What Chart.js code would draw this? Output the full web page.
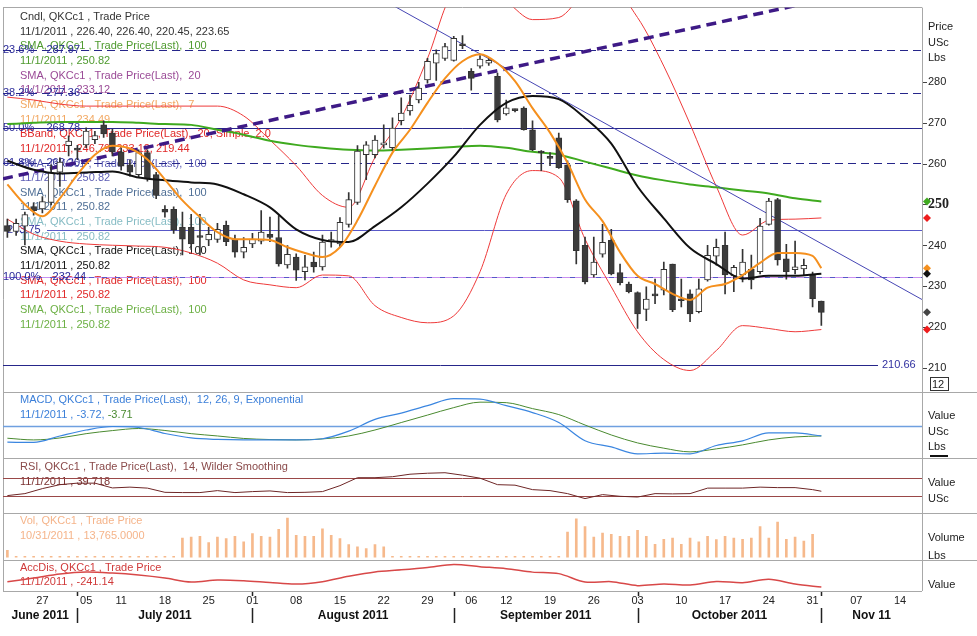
<!DOCTYPE html>
<html>
<head>
<meta charset="utf-8">
<script src="https://cdn.jsdelivr.net/npm/chart.js@4.4.1/dist/chart.umd.min.js"></script>
<style>
  html, body { margin: 0; padding: 0; background: #fff; overflow: hidden; }
  canvas { display: block; }
</style>
</head>
<body>
<canvas id="chart" width="977" height="636"></canvas>
<script>
// trading days Jun 21 2011 .. Nov 16 2011 (index 0..104), data up to Nov 1 (index 93)
const opens  = [244.9,243.5,244.8,249.6,249.0,250.6,258.0,264.5,263.6,264.7,266.0,269.6,267.6,263.0,259.8,257.4,262.8,257.4,248.9,248.9,
                244.5,244.5,242.2,241.4,241.5,245.0,241.6,238.4,240.4,241.1,242.8,242.0,235.3,237.2,233.6,236.0,234.8,241.0,240.4,245.2,
                250.6,262.3,262.3,264.7,264.0,270.6,273.0,275.7,280.6,284.7,285.9,285.4,289.2,282.7,284.0,284.7,281.5,272.3,273.2,273.7,
                268.4,262.9,261.6,266.4,259.8,251.0,240.1,232.8,237.9,241.3,233.4,230.6,228.5,224.4,227.9,229.1,235.5,226.9,228.2,223.8,
                231.6,237.4,240.1,232.6,232.8,234.2,233.6,245.2,251.3,236.8,234.1,234.3,232.8,226.40];
const highs  = [246.5,246.5,248.2,250.5,252.0,259.8,261.5,266.9,264.6,268.9,268.0,270.6,268.5,264.0,261.0,263.5,263.5,258.0,249.8,249.5,
                248.2,247.7,247.7,244.5,245.5,246.0,242.6,242.0,243.0,248.6,247.0,247.4,240.0,238.0,237.6,238.4,242.6,243.3,246.9,253.0,
                264.5,265.5,267.0,269.6,271.3,276.2,276.9,280.0,285.9,288.0,289.6,291.3,291.5,283.4,286.6,285.9,282.3,275.7,273.5,274.0,
                270.6,263.3,262.8,267.6,260.8,251.3,242.1,242.1,245.2,244.0,235.5,231.1,228.7,229.9,231.8,236.0,235.5,231.8,229.2,231.8,
                240.1,241.6,243.3,235.2,239.1,237.7,246.7,251.6,251.6,240.3,241.1,236.7,233.5,226.40];
const lows   = [242.0,242.5,240.2,247.5,248.0,250.0,254.5,262.0,261.1,264.0,265.0,266.5,262.0,258.5,257.0,256.8,255.8,251.5,247.0,243.0,
                237.7,239.1,237.7,240.0,240.8,240.0,237.2,237.0,239.5,240.4,241.0,235.0,234.5,231.5,231.6,233.5,234.0,239.6,239.6,244.5,
                250.1,256.2,261.5,263.9,263.3,269.6,272.0,275.0,279.8,280.5,285.4,285.2,288.3,278.1,283.5,284.2,270.3,272.0,272.8,268.3,
                263.3,258.4,259.6,258.9,250.6,235.5,230.6,232.3,237.2,232.8,230.4,228.4,219.7,221.6,225.8,227.9,223.8,225.0,221.4,223.5,
                231.3,235.2,228.2,228.7,231.1,229.4,233.1,245.0,235.2,231.8,233.1,232.8,225.0,220.45];
const closes = [243.5,245.5,247.6,248.6,250.8,257.9,260.5,265.6,263.4,268.1,267.0,267.4,263.0,259.5,258.0,262.8,256.6,252.3,248.2,243.8,
                241.6,240.4,242.0,242.8,244.0,241.0,238.4,239.6,241.6,243.3,242.0,235.5,237.9,234.0,234.8,234.8,240.9,241.2,245.7,251.3,
                263.2,264.7,265.9,264.9,268.8,272.5,274.4,278.6,285.2,287.1,288.8,290.8,289.0,281.0,285.7,285.4,270.8,273.8,273.1,268.4,
                263.5,262.7,261.4,259.1,251.3,238.8,231.1,236.0,240.8,233.1,230.9,228.7,223.3,226.9,227.7,234.2,224.3,226.5,223.3,229.4,
                237.6,239.6,232.8,234.7,236.0,231.6,244.8,250.9,236.5,233.6,234.8,235.2,227.0,223.65];
const volume = [4200,600,600,600,600,600,600,600,600,600,600,600,600,600,600,600,600,600,600,600,
                11500,12100,12600,8800,12100,11200,12600,9200,14200,12600,12100,16700,23500,13200,12600,12600,17100,13200,11200,7600,
                6200,5200,7600,6200,600,600,600,600,600,600,600,600,600,600,600,600,600,600,600,600,
                600,600,600,600,15100,23100,18500,12100,14500,13800,12600,12600,16100,12600,7800,10800,11500,7800,11500,9200,
                12600,10600,12600,11500,10800,11500,18500,11500,21100,10800,12100,9700,13765,null];

// indicator sample days
const days2 = [0,2,4,6,8,10,12,14,16,18,20,22,24,26,28,30,32,34,36,38,40,42,44,46,48,50,52,54,56,58,60,62,64,66,68,70,72,74,76,78,80,82,84,86,88,90,92,93];
const days3 = [0,3,6,9,12,15,18,21,24,27,30,33,36,39,42,45,48,51,54,57,60,63,66,69,72,75,78,81,84,87,90,93];

const sma7    = [255.0,250.1,247.2,251.6,257.4,262.3,264.5,263.8,261.1,256.2,251.1,247.0,243.3,241.6,241.6,241.4,239.6,238.2,237.2,239.6,
                 246.2,254.7,262.8,268.4,275.0,281.0,285.2,286.9,284.7,280.3,273.7,267.7,260.3,251.3,246.0,238.4,232.6,230.6,228.2,226.7,
                 229.7,230.6,232.8,235.8,238.2,238.2,237.5,234.49];
const sma20   = [260.8,258.6,257.7,257.9,258.2,256.7,256.0,255.5,255.0,252.6,249.4,244.0,241.4,240.9,244.8,249.4,255.2,261.8,269.6,275.0,
                 276.7,275.9,271.3,265.0,254.5,246.7,239.4,235.5,231.9,232.6,232.6,233.12];
const sma100  = [269.8,270.1,270.3,270.3,270.3,270.1,269.8,269.6,268.4,267.2,265.7,264.7,264.0,263.5,263.3,263.5,263.8,264.2,264.5,264.0,
                 263.0,262.3,260.6,258.9,257.2,256.0,255.0,254.3,253.5,252.8,251.6,250.82];
const bbUpper = [276.4,275.7,274.7,274.2,274.2,274.2,274.2,274.2,274.2,271.8,265.9,259.6,252.3,249.4,261.6,271.3,285.9,301.8,303.0,299.8,
                 295.4,295.9,301.8,303.0,295.9,284.0,269.8,254.5,242.6,246.2,246.5,246.79];
const bbLower = [246.5,242.8,241.1,240.4,240.1,239.9,239.6,238.2,235.7,231.6,230.4,229.7,232.8,232.6,225.3,222.4,221.1,222.8,233.6,252.6,
                 258.4,256.7,241.6,229.9,218.9,212.1,209.4,214.3,220.4,219.7,218.9,219.44];
const macd    = [-6.06,-6.13,-3.72,-1.49,-0.19,-0.56,-2.79,-4.46,-5.02,-5.2,-5.2,-5.2,-4.76,-1.93,2.49,4.83,7.62,10.22,10.04,7.62,
                 5.02,1.3,-5.5,-7.81,-10.41,-10.15,-10.41,-7.29,-5.58,-2.6,-2.6,-3.72];
const signal  = [-4.57,-5.2,-4.46,-2.86,-1.71,-0.93,-1.67,-2.86,-3.72,-4.65,-5.06,-5.2,-4.83,-3.72,-1.49,1.3,4.09,6.88,8.92,8.74,
                 6.51,4.28,0.37,-3.35,-6.32,-8.29,-9.67,-8.55,-7.06,-5.2,-4.09,-3.71];
const rsi     = [30,34.4,45.6,54.4,57.8,57.8,47.1,48.9,46.7,37.3,36.7,36.7,41.1,36.7,38.9,40.4,36.7,37.3,38.9,52.2,
                 70,70,72.2,77.8,80,81.1,75.6,68.9,54.4,53.3,43.3,41.1,34.4,23.3,32.2,28.4,26.7,34.4,33.8,34.4,
                 46.7,46.7,46.7,48.9,47.8,47.8,43.3,39.718];
const accDis  = [-192.9,-160.7,-125,-107.2,-116.1,-134,-160.7,-196.5,-178.6,-184.9,-200.9,-214.3,-192.9,-144.7,-105.4,-86.6,-65.2,-38.4,-58,-75.9,
                 -107.2,-120.6,-196.5,-192.9,-228.6,-214.3,-223.3,-191.1,-201.8,-172.3,-214.3,-241.14];

// trend lines (end points)
const upTrendX = [-0.5, 104.5],  upTrendY = [256.4, 305.6];
const downTrendX = [40, 104.5],  downTrendY = [303.7, 226.8];

// horizontal levels
const fibNames  = ['23.6%', '38.2%', '50.0%', '61.8%', '100.0%'];
const fibValues = [287.97, 277.36, 268.78, 260.20, 232.44];
const fibDashed = [true, true, false, true, true];
const supportLevel = 243.75;
const lowLevel = 210.66;
const rsiLevels = [70, 30];

const priceTicks = [210,215,220,225,230,235,240,245,250,255,260,265,270,275,280];
const tickIdx  = [4,9,13,18,23,28,33,38,43,48,53,57,62,67,72,77,82,87,92,97,102];
const tickText = ['27','05','11','18','25','01','08','15','22','29','06','12','19','26','03','10','17','24','31','07','14'];
const monthStart = [8, 28, 51, 72, 93];
const monthText  = ['June 2011', 'July 2011', 'August 2011', 'September 2011', 'October 2011', 'Nov 11'];

const legendMain = [
  ['Cndl, QKCc1 , Trade Price', '#333333'],
  ['11/1/2011 , 226.40, 226.40, 220.45, 223.65', '#333333'],
  ['SMA, QKCc1 , Trade Price(Last),  100', '#4e9a2e'],
  ['11/1/2011 , 250.82', '#4e9a2e'],
  ['SMA, QKCc1 , Trade Price(Last),  20', '#9a4a96'],
  ['11/1/2011 , 233.12', '#9a4a96'],
  ['SMA, QKCc1 , Trade Price(Last),  7', '#f2a862'],
  ['11/1/2011 , 234.49', '#f2a862'],
  ['BBand, QKCc1 , Trade Price(Last),  20, Simple, 2.0', '#e02828'],
  ['11/1/2011 , 246.79, 233.12, 219.44', '#e02828'],
  ['SMA, QKCc1 , Trade Price(Last),  100', '#5c5cb4'],
  ['11/1/2011 , 250.82', '#5c5cb4'],
  ['SMA, QKCc1 , Trade Price(Last),  100', '#4f6f96'],
  ['11/1/2011 , 250.82', '#4f6f96'],
  ['SMA, QKCc1 , Trade Price(Last),  100', '#86bcc4'],
  ['11/1/2011 , 250.82', '#86bcc4'],
  ['SMA, QKCc1 , Trade Price(Last),  100', '#111111'],
  ['11/1/2011 , 250.82', '#111111'],
  ['SMA, QKCc1 , Trade Price(Last),  100', '#e02828'],
  ['11/1/2011 , 250.82', '#e02828'],
  ['SMA, QKCc1 , Trade Price(Last),  100', '#6cb044'],
  ['11/1/2011 , 250.82', '#6cb044']
];

const FONT = '"Liberation Sans", Arial, sans-serif';
Chart.defaults.font.family = FONT;
Chart.defaults.font.size = 11;

const pts = (xs, ys) => xs.map((x, i) => ({ x: x, y: ys[i] }));
const idx = closes.map((_, i) => i);
const fixWidth = (s) => { s.width = 55; };

const pane = (weight, min, max) => ({
  type: 'linear', position: 'right', stack: 'panes', stackWeight: weight, min: min, max: max,
  afterFit: fixWidth, ticks: { display: false }, grid: { display: false }, border: { display: false }
});

const line = (data, color, width, axis, order, extra) => Object.assign({
  type: 'line', data: data, borderColor: color, borderWidth: width, pointRadius: 0,
  yAxisID: axis, fill: false, order: order, cubicInterpolationMode: 'monotone'
}, extra || {});

function text(ctx, s, x, y, color, font, align) {
  ctx.font = font || ('11px ' + FONT);
  ctx.fillStyle = color;
  ctx.textAlign = align || 'left';
  ctx.textBaseline = 'middle';
  ctx.fillText(s, x, y);
}

function hline(ctx, x1, x2, y, color, width, dash) {
  ctx.save();
  ctx.strokeStyle = color;
  ctx.lineWidth = width;
  ctx.setLineDash(dash || []);
  ctx.beginPath();
  ctx.moveTo(x1, Math.round(y) + 0.5);
  ctx.lineTo(x2, Math.round(y) + 0.5);
  ctx.stroke();
  ctx.restore();
}

const panesPlugin = {
  id: 'panes',
  beforeDatasetsDraw(chart) {
    const { ctx, chartArea: a, scales } = chart;
    const y = scales.y;
    ctx.save();
    // borders and pane separators
    const grey = '#a8a8a8';
    hline(ctx, a.left, a.right, a.top - 0.5, grey, 1);
    [scales.macd.top, scales.rsi.top, scales.vol.top, scales.acc.top].forEach(t => hline(ctx, a.left, chart.width, t - 0.5, grey, 1));
    hline(ctx, a.left, a.right, a.bottom - 0.5, grey, 1);
    ctx.strokeStyle = grey;
    ctx.beginPath();
    ctx.moveTo(a.left + 0.5, a.top); ctx.lineTo(a.left + 0.5, a.bottom);
    ctx.moveTo(a.right + 0.5, a.top); ctx.lineTo(a.right + 0.5, a.bottom);
    ctx.stroke();

    // legends
    legendMain.forEach((l, i) => text(ctx, l[0], 20, 17 + i * 14.65, l[1]));
    text(ctx, 'MACD, QKCc1 , Trade Price(Last),  12, 26, 9, Exponential', 20, 400, '#3b7fd9');
    const part = '11/1/2011 , -3.72,';
    text(ctx, part, 20, 415, '#3b7fd9');
    text(ctx, ' -3.71', 20 + ctx.measureText(part).width, 415, '#4a8a30');
    text(ctx, 'RSI, QKCc1 , Trade Price(Last),  14, Wilder Smoothing', 20, 467, '#8a4a4a');
    text(ctx, '11/1/2011 , 39.718', 20, 482, '#7a3030');
    text(ctx, 'Vol, QKCc1 , Trade Price', 20, 521, '#f5b48a');
    text(ctx, '10/31/2011 , 13,765.0000', 20, 536, '#f5b48a');
    text(ctx, 'AccDis, QKCc1 , Trade Price', 20, 568, '#d03a3a');
    text(ctx, '11/1/2011 , -241.14', 20, 582, '#d03a3a');

    // fibonacci and support levels
    const navy = '#26268a';
    fibValues.forEach((v, i) => {
      const py = y.getPixelForValue(v);
      if (v === 232.44) {
        hline(ctx, a.left, a.right, py, '#5858c8', 1);
        hline(ctx, a.left, a.right, py, '#c890f0', 1, [8, 5]);
      } else {
        hline(ctx, a.left, a.right, py, navy, 1, fibDashed[i] ? [8, 5] : []);
      }
      text(ctx, fibNames[i] + '    ' + v.toFixed(2), a.left, py, '#2a2a9a');
    });
    const sy = y.getPixelForValue(supportLevel);
    hline(ctx, 47, a.right, sy, '#5858c8', 1);
    text(ctx, supportLevel.toFixed(2), a.left + 4, sy, '#2a2a9a');
    const ly = y.getPixelForValue(lowLevel);
    hline(ctx, a.left, 878, ly, navy, 1);
    text(ctx, lowLevel.toFixed(2), 882, ly, '#3030a0');

    // indicator reference lines
    hline(ctx, a.left, a.right, scales.macd.getPixelForValue(0), '#6fa0e0', 1.5);
    rsiLevels.forEach(v => hline(ctx, a.left, a.right, scales.rsi.getPixelForValue(v), '#9a4848', 1));
    ctx.restore();
  },
  afterDraw(chart) {
    const { ctx, chartArea: a, scales } = chart;
    const x = scales.x, y = scales.y;
    ctx.save();
    // right axis captions
    const ax = a.right + 6;
    text(ctx, 'Price', ax, 27, '#222');
    text(ctx, 'USc', ax, 43, '#222');
    text(ctx, 'Lbs', ax, 58, '#222');
    text(ctx, 'Value', ax, 416, '#222');
    text(ctx, 'USc', ax, 432, '#222');
    text(ctx, 'Lbs', ax, 447, '#222');
    ctx.fillStyle = '#111';
    ctx.fillRect(ax + 2, 455, 18, 2);
    text(ctx, 'Value', ax, 483, '#222');
    text(ctx, 'USc', ax, 499, '#222');
    text(ctx, 'Volume', ax, 538, '#222');
    text(ctx, 'Lbs', ax, 556, '#222');
    text(ctx, 'Value', ax, 585, '#222');
    ctx.strokeStyle = '#333';
    ctx.lineWidth = 1;
    ctx.strokeRect(a.right + 8.5, 377.5, 18, 13);
    text(ctx, '12', a.right + 10, 384.5, '#222');

    // last value markers
    const markers = [
      [sma100[sma100.length - 1], '#3faa1f'],
      [bbUpper[bbUpper.length - 1], '#ee1c1c'],
      [sma7[sma7.length - 1], '#f5901e'],
      [sma20[sma20.length - 1], '#111111'],
      [closes[closes.length - 1], '#444444'],
      [bbLower[bbLower.length - 1], '#ee1c1c']
    ];
    markers.forEach(m => {
      const py = y.getPixelForValue(m[0]);
      ctx.fillStyle = m[1];
      ctx.beginPath();
      ctx.moveTo(a.right + 5, py - 4);
      ctx.lineTo(a.right + 9, py);
      ctx.lineTo(a.right + 5, py + 4);
      ctx.lineTo(a.right + 1, py);
      ctx.closePath();
      ctx.fill();
    });

    // date axis
    const b = a.bottom;
    tickIdx.forEach((d, i) => text(ctx, tickText[i], x.getPixelForValue(d), b + 10, '#222', '11px ' + FONT, 'center'));
    const edges = [a.left].concat(monthStart.map(d => x.getPixelForValue(d)), [a.right]);
    ctx.strokeStyle = '#222';
    monthStart.forEach(d => {
      const px = Math.round(x.getPixelForValue(d)) + 0.5;
      ctx.beginPath();
      ctx.moveTo(px, b + 1); ctx.lineTo(px, b + 5);
      ctx.moveTo(px, b + 17); ctx.lineTo(px, b + 32);
      ctx.lineWidth = 1.5;
      ctx.stroke();
    });
    monthText.forEach((m, i) => text(ctx, m, (edges[i] + edges[i + 1]) / 2, b + 25, '#111', 'bold 12px ' + FONT, 'center'));
    ctx.restore();
  }
};

new Chart(document.getElementById('chart'), {
  type: 'bar',
  data: {
    datasets: [
      line(pts(days2, sma7), '#f5901e', 2, 'y', 1),
      line(pts(days3, sma20), '#111111', 2, 'y', 2),
      { type: 'bar', data: idx.map(i => ({ x: i, y: [opens[i], closes[i]] })), yAxisID: 'y', order: 3,
        backgroundColor: idx.map(i => closes[i] >= opens[i] ? '#ffffff' : '#3c3c3c'),
        borderColor: '#333333', borderWidth: 1, borderSkipped: false, barThickness: 6, minBarLength: 2, grouped: false },
      { type: 'bar', data: idx.map(i => ({ x: i, y: [lows[i], highs[i]] })), yAxisID: 'y', order: 4,
        backgroundColor: '#333333', barThickness: 1, grouped: false },
      line(pts(upTrendX, upTrendY), '#3e1a86', 3.5, 'y', 5, { borderDash: [10, 6], cubicInterpolationMode: 'default', tension: 0 }),
      line(pts(downTrendX, downTrendY), '#4646b4', 1, 'y', 6, { cubicInterpolationMode: 'default', tension: 0 }),
      line(pts(days3, sma100), '#3faa1f', 2, 'y', 7),
      line(pts(days3, bbUpper), '#ee3a3a', 1, 'y', 8),
      line(pts(days3, bbLower), '#ee3a3a', 1, 'y', 8),
      line(pts(days3, macd), '#3b86e0', 1.2, 'macd', 1),
      line(pts(days3, signal), '#4a8a30', 1, 'macd', 2),
      line(pts(days2, rsi), '#6e2626', 1, 'rsi', 1, { cubicInterpolationMode: 'default', tension: 0 }),
      { type: 'bar', data: idx.filter(i => volume[i] !== null).map(i => ({ x: i, y: volume[i] })), yAxisID: 'vol', order: 1,
        backgroundColor: '#f6b98c', barThickness: 2, grouped: false },
      line(pts(days3, accDis), '#d84848', 1.5, 'acc', 1, { cubicInterpolationMode: 'default', tension: 0.3 })
    ]
  },
  options: {
    responsive: false,
    animation: false,
    layout: { padding: { left: 3, top: 4, right: 0, bottom: 45 } },
    plugins: { legend: { display: false }, tooltip: { enabled: false } },
    scales: {
      x: { type: 'linear', min: -0.5, max: 104.5, offset: false, bounds: 'ticks', grid: { offset: false }, display: false },
      y: {
        type: 'linear', position: 'right', stack: 'panes', stackWeight: 387, min: 204.08, max: 298.34,
        afterFit: fixWidth,
        afterBuildTicks: (s) => { s.ticks = priceTicks.map(v => ({ value: v })); },
        grid: { drawOnChartArea: false, drawTicks: true, tickLength: 5, tickColor: '#444', color: '#444' },
        border: { display: false },
        ticks: {
          padding: 1, color: '#222',
          font: (c) => (c.tick && c.tick.value === 250)
            ? { family: '"Liberation Serif", serif', size: 14, weight: 'bold' }
            : { family: FONT, size: 11 }
        }
      },
      macd: pane(67, -12.27, 12.64),
      rsi: pane(55, -10, 112.2),
      vol: pane(47, -1794, 26312),
      acc: pane(31, -276.8, 0)
    }
  },
  plugins: [panesPlugin]
});
</script>
</body>
</html>
